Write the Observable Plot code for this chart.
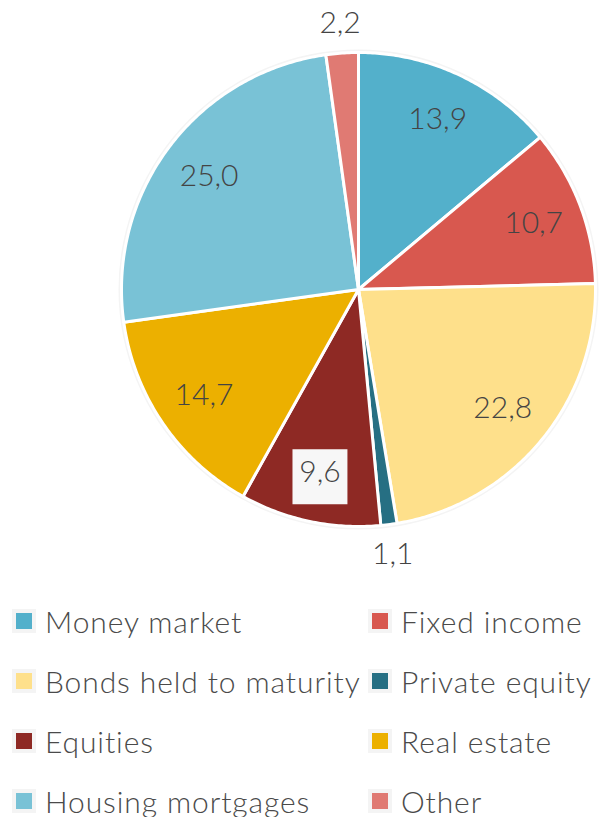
<!DOCTYPE html>
<html>
<head>
<meta charset="utf-8">
<script src="https://cdn.jsdelivr.net/npm/d3@7"></script>
<script src="https://cdn.jsdelivr.net/npm/@observablehq/plot@0.6"></script>
<style>
  body { margin: 0; background: #fff; font-family: Lato, "Open Sans", sans-serif; }
  #legend { display: grid; grid-template-columns: 356px 244px; width: 600px; }
  .item { height: 60px; display: flex; align-items: center; font-size: 30px; font-weight: 300; letter-spacing: 0.9px; color: #4a4a4a; white-space: nowrap; }
  .sw { width: 16px; height: 16px; border: 4px solid #f4f4f4; margin: 0 9px 0 12px; flex: none; }
</style>
</head>
<body>
<div id="chart"></div>
<div id="legend"></div>
<script>
const categories = ["Money market", "Fixed income", "Bonds held to maturity", "Private equity", "Equities", "Real estate", "Housing mortgages", "Other"];
const values = [13.9, 10.7, 22.8, 1.1, 9.6, 14.7, 25.0, 2.2];
const colors = ["#53b0cb", "#d8584f", "#fee08b", "#266f83", "#8e2924", "#ecb000", "#79c2d6", "#e07a73"];
const outside = ["Private equity", "Other"];
const boxed = ["Equities"];

const arcs = d3.pie().sort(null).value(d => d)(values);
const pts = [];
const labels = [];
arcs.forEach((a, i) => {
  const name = categories[i];
  pts.push({name, x: 0, y: 0});
  const n = Math.max(4, Math.ceil((a.endAngle - a.startAngle) / 0.01));
  for (let k = 0; k <= n; k++) {
    const t = a.startAngle + (a.endAngle - a.startAngle) * k / n;
    pts.push({name, x: Math.sin(t), y: Math.cos(t)});
  }
  pts.push({name, x: 0, y: 0});
  const mid = (a.startAngle + a.endAngle) / 2;
  const r = outside.includes(name) ? 1.125 : 0.79;
  labels.push({name, x: r * Math.sin(mid), y: r * Math.cos(mid), text: values[i].toFixed(1).replace(".", ","), boxed: boxed.includes(name)});
});

const chart = Plot.plot({
  width: 600,
  height: 591,
  marginLeft: 121,
  marginRight: 5,
  marginTop: 52,
  marginBottom: 65,
  x: {domain: [-1, 1], axis: null},
  y: {domain: [-1, 1], axis: null},
  color: {domain: categories, range: colors},
  style: {fontFamily: "Lato, 'Open Sans', sans-serif", background: "#fff"},
  marks: [
    Plot.dot([{x: 0, y: 0}], {x: "x", y: "y", r: 240, fill: "#f4f4f4"}),
    Plot.line(pts, {x: "x", y: "y", z: "name", fill: "name", stroke: "white", strokeWidth: 3, strokeLinejoin: "round", curve: "linear"}),
    Plot.dot(labels.filter(d => d.boxed), {x: "x", y: "y", symbol: "square", r: 31, fill: "#f7f7f7", dy: 4}),
    Plot.text(labels, {x: "x", y: "y", text: "text", fontSize: 30, fontWeight: 300, fill: "#444"})
  ]
});
document.getElementById("chart").appendChild(chart);

const legend = document.getElementById("legend");
categories.forEach((c, i) => {
  const item = document.createElement("div");
  item.className = "item";
  const sw = document.createElement("span");
  sw.className = "sw";
  sw.style.background = colors[i];
  item.appendChild(sw);
  item.appendChild(document.createTextNode(c));
  legend.appendChild(item);
});
</script>
</body>
</html>
